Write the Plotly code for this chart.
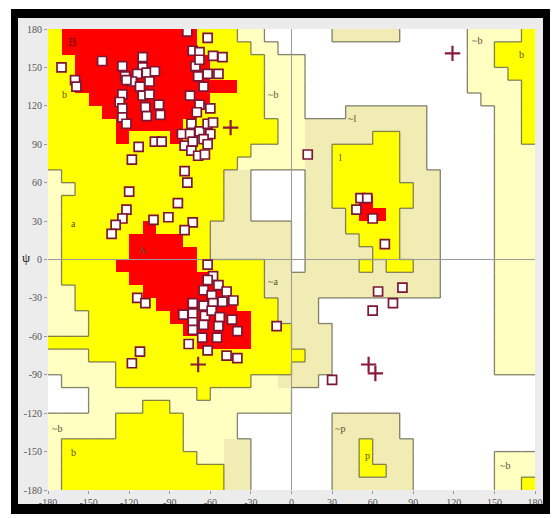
import plotly.graph_objects as go

# ---------------- data ----------------
# Region map, 10-degree cells. Rows run from psi 170..180 (top) down to psi -180..-170.
# Run-length encoded: R core, Y allowed, P generous (light), Q generous (beige), W disallowed
region_rows = [
    "Y1 R10 Y3 P2 W5 Q5 W5 P4 Y1",
    "Y1 R10 Y4 P2 W14 P2 Y3",
    "Y2 R10 Y4 P3 W12 P2 Y3",
    "Y2 R10 Y4 P3 W12 P3 Y2",
    "Y2 R12 Y2 P3 W12 P4 Y1",
    "Y3 R9 Y4 P3 W13 P3 Y1",
    "Y4 R7 Y5 P3 W3 Q6 W5 P2 Y1",
    "Y5 R5 Y7 P2 Q9 W5 P2 Y1",
    "Y5 R1 Y3 R1 Y7 P2 Q5 Y2 Q2 W5 P2 Y1",
    "Y15 P4 Q2 Y5 Q2 W5 P3",
    "Y14 P5 Q2 Y5 Q2 W5 P3",
    "P1 Y12 Q2 W4 Q2 Y5 Q3 W4 P3",
    "P2 Y11 Q2 W4 Q2 Y6 Q2 W4 P3",
    "P1 Y12 Q2 W4 Q2 Y2 R1 Y3 Q2 W4 P3",
    "P1 Y12 Q2 W4 Q3 Y1 R2 Y1 Q3 W4 P3",
    "P1 Y6 R1 Y4 Q6 W1 Q3 Y4 Q3 W4 P3",
    "P1 Y5 R4 Y2 Q6 W1 Q4 Y3 Q3 W4 P3",
    "P1 Y5 R5 Y1 Q6 W1 Q5 Y2 Q3 W4 P3",
    "P1 Y4 R6 Y5 Q2 W1 Q4 Y1 Q1 Y2 Q2 W4 P3",
    "P1 Y5 R6 Y4 Q13 W4 P3",
    "P2 Y5 R6 Y3 Q13 W4 P3",
    "P2 Y6 R6 Y3 Q3 W13 P3",
    "P3 Y6 R6 Y2 Q3 W13 P3",
    "P3 Y7 R5 Y3 Q3 W12 P3",
    "Y11 R4 Y3 Q3 W12 P3",
    "P3 Y16 Q2 W12 P3",
    "P5 Y13 Q3 W12 P3",
    "W1 P4 Y10 P2 Q3 W16",
    "W3 P8 Y1 P6 W18",
    "W3 P4 Y2 P9 W18",
    "P5 Y5 P4 W7 Q5 W10",
    "P5 Y5 P4 W7 Q5 W10",
    "P1 Y9 P3 Q2 W6 Q2 Y1 Q3 W9",
    "P1 Y10 P2 Q2 W6 Q2 Y1 Q3 W6 P3",
    "P1 Y12 Q2 W6 Q2 Y2 Q2 W6 P3",
    "P1 Y12 Q2 W6 Q6 W6 P2 Y1",
]

# residues (non-glycine) : phi, psi
res_phi = [-140, -125, -123, -110, -110, -114, -107, -101, -118, -112, -105, -122, -125, -110,
           -105, -127, -108, -98, -125, -107, -97, -125, -122, -170, -160, -159, -101, -96,
           -113, -118, -120,
           -77, -62, -73, -68, -58, -51, -71, -62, -54, -69, -65, -75, -68, -70, -74, -68, -62,
           -58, -81, -75, -60, -79, -73, -65, -62, -74, -69, -64, -79, -77, -68, -60,
           -84, -91, -102, -73, -79, -122, -125, -130, -133,
           -62, -58, -62, -54, -48, -65, -59, -73, -65, -58, -51, -43, -80, -73, -64, -59, -53,
           -73, -65, -54, -44, -40, -73, -66, -55, -76, -62, -48, -40, -114, -108, -112, -118, -11,
           12, 51, 56, 48, 60, 69, 64, 82, 75, 60, 30]
res_psi = [155, 151, 143, 158, 150, 145, 146, 147, 139, 135, 139, 140, 129, 128,
           129, 123, 119, 121, 118, 112, 113, 111, 106, 150, 140, 135, 92, 92,
           88, 78, 53,
           178, 173, 163, 162, 159, 158, 151, 145, 145, 143, 135, 128, 121, 115, 106, 100, 106,
           107, 98, 98, 98, 89, 92, 94, 90, 85, 81, 82, 69, 60, 156, 118,
           44, 33, 31, 29, 23, 39, 32, 27, 20,
           -4, -13, -16, -20, -25, -24, -28, -34, -36, -34, -33, -32, -43, -42, -44, -40, -45,
           -49, -51, -52, -47, -56, -55, -61, -61, -66, -71, -75, -77, -30, -34, -72, -81, -52,
           82, 48, 48, 39, 32, 12, -25, -22, -34, -40, -94]

# glycines : phi, psi
gly_phi = [119, -45, -69, 57, 62]
gly_psi = [161, 103, -82, -82, -89]

# region labels
label_text = ["B", "b", "a", "A", "~b", "~l", "l", "~a", "~b", "b", "~b", "b", "~p", "p", "~b"]
label_phi = [-162, -168, -161, -110, -14, 45, 36, -14, 137, 170, -173, -161, 36, 56, 158]
label_psi = [170, 129, 28, 7, 129, 110, 80, -17, 171, 160, -132, -151, -132, -153, -161]

tick_vals = [-180, -150, -120, -90, -60, -30, 0, 30, 60, 90, 120, 150, 180]
tick_text = ["-180", "-150", "-120", "-90", "-60", "-30", "0", "30", "60", "90", "120", "150", "180"]

# ---------------- build ----------------
def expand(rle):
    out = []
    for tok in rle.split():
        out += [tok[0]] * int(tok[1:])
    assert len(out) == 36, rle
    return out

grid = [expand(r) for r in region_rows]
code = {"W": 0, "P": 1, "Q": 2, "Y": 3, "R": 4}
phi_c = [-175 + 10 * i for i in range(36)]
psi_c = [175 - 10 * i for i in range(36)]
z = [[code[ch] for ch in row] for row in grid]

colorscale = [[0, "#FFFFFF"], [0.125, "#FFFFFF"],
              [0.125, "#FFFFC2"], [0.375, "#FFFFC2"],
              [0.375, "#F0ECB4"], [0.625, "#F0ECB4"],
              [0.625, "#FFFF00"], [0.875, "#FFFF00"],
              [0.875, "#FF0000"], [1, "#FF0000"]]

fig = go.Figure()
fig.add_trace(go.Heatmap(x=phi_c, y=psi_c[::-1], z=z[::-1], zmin=0, zmax=4,
                         colorscale=colorscale, showscale=False, hoverinfo="skip"))

# region boundary lines
groups = {"W": 0, "P": 1, "Q": 1, "Y": 2, "R": 2}
bx, by = [], []
for r in range(36):
    for c in range(36):
        g = groups[grid[r][c]]
        if c < 35 and groups[grid[r][c + 1]] != g:
            xv = -180 + 10 * (c + 1)
            bx += [xv, xv, None]
            by += [180 - 10 * r, 170 - 10 * r, None]
        if r < 35 and groups[grid[r + 1][c]] != g:
            yv = 170 - 10 * r
            bx += [-180 + 10 * c, -170 + 10 * c, None]
            by += [yv, yv, None]
fig.add_trace(go.Scatter(x=bx, y=by, mode="lines",
                         line=dict(color="rgba(100,100,80,0.8)", width=1.3),
                         hoverinfo="skip", showlegend=False))

# zero lines
fig.add_trace(go.Scatter(x=[-180, 180], y=[0, 0], mode="lines",
                         line=dict(color="#9a9a9a", width=1), hoverinfo="skip", showlegend=False))
fig.add_trace(go.Scatter(x=[0, 0], y=[-180, 180], mode="lines",
                         line=dict(color="#9a9a9a", width=1), hoverinfo="skip", showlegend=False))

fig.add_trace(go.Scatter(x=res_phi, y=res_psi, mode="markers",
                         marker=dict(symbol="square", size=9, color="#FFFFFF",
                                     line=dict(color="#7D1535", width=1.7)),
                         showlegend=False))
fig.add_trace(go.Scatter(x=gly_phi, y=gly_psi, mode="markers",
                         marker=dict(symbol="cross-thin", size=11,
                                     line=dict(color="#8B1A3A", width=2.2)),
                         showlegend=False))

for t, xv, yv in zip(label_text, label_phi, label_psi):
    big = t == "B"
    fig.add_annotation(x=xv, y=yv, text=t, showarrow=False,
                       font=dict(family="Liberation Serif", size=13 if big else 10,
                                 color="#7a0a0a" if big else "#5a5030"))

# frame and surround (paper coordinates around the plot area)
shapes = [
    dict(type="rect", xref="paper", yref="paper", x0=-0.0616, x1=1.0164, y0=-0.0304, y1=1.0239,
         fillcolor="#ECECEC", line=dict(width=0), layer="below"),
    dict(type="rect", xref="paper", yref="paper", x0=-0.076, x1=1.0308, y0=1.0239, y1=1.0434,
         fillcolor="#000000", line=dict(width=0)),
    dict(type="rect", xref="paper", yref="paper", x0=-0.076, x1=1.0308, y0=-0.0521, y1=-0.0304,
         fillcolor="#000000", line=dict(width=0)),
    dict(type="rect", xref="paper", yref="paper", x0=-0.076, x1=-0.0616, y0=-0.0521, y1=1.0434,
         fillcolor="#000000", line=dict(width=0)),
    dict(type="rect", xref="paper", yref="paper", x0=1.0164, x1=1.0308, y0=-0.0521, y1=1.0434,
         fillcolor="#000000", line=dict(width=0)),
]

fig.add_annotation(xref="paper", yref="paper", x=-0.057, y=0.505, text="ψ", showarrow=False,
                   font=dict(family="Liberation Serif", size=13, color="#222"))

axis_common = dict(range=[-180, 180], tickvals=tick_vals, ticktext=tick_text,
                   tickfont=dict(family="Liberation Serif", size=10, color="#555"),
                   ticks="outside", ticklen=3, tickcolor="#999", showgrid=False,
                   zeroline=False, showline=False, automargin=False)

# the page body adds an 8 px offset, so margins are set to place the plot area
# at the reference position in the window
fig.update_layout(width=560, height=518, margin=dict(l=40, r=33, t=21, b=36),
                  paper_bgcolor="#FFFFFF", plot_bgcolor="#FFFFFF",
                  xaxis=axis_common, yaxis=axis_common, shapes=shapes, showlegend=False)

fig.write_html("out.html")
